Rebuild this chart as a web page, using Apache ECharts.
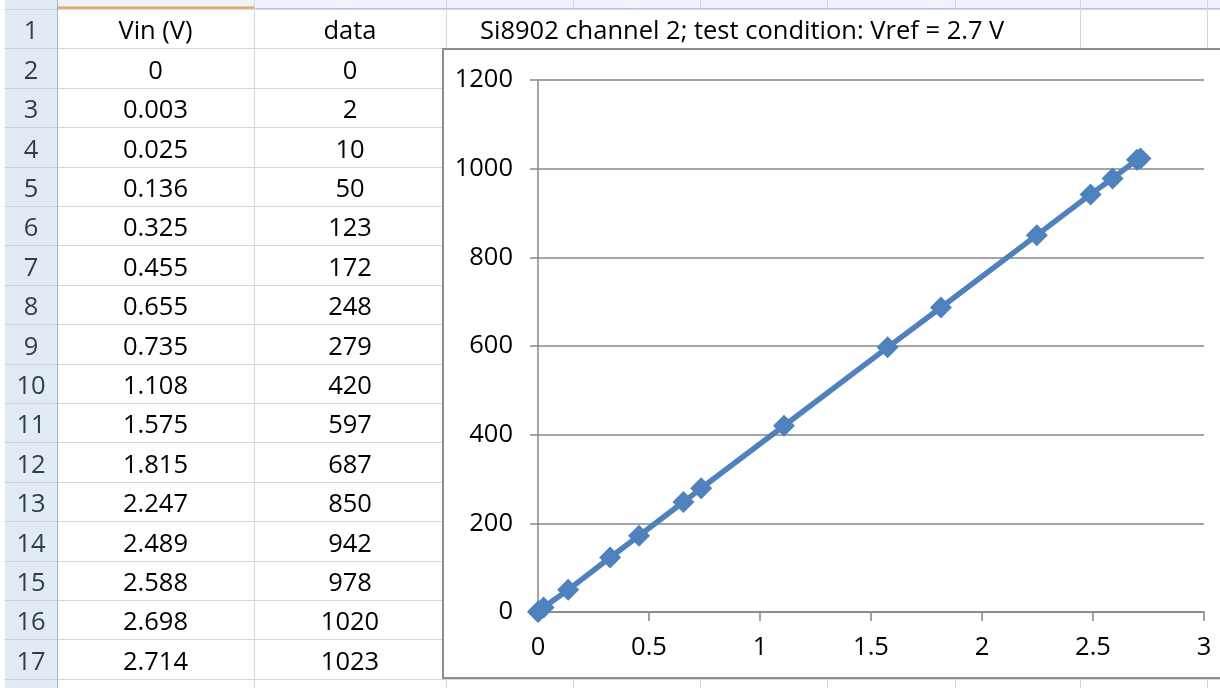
<!DOCTYPE html>
<html>
<head>
<meta charset="utf-8">
<script src="https://cdn.jsdelivr.net/npm/echarts@6/dist/echarts.min.js"></script>
<style>
html,body{margin:0;padding:0;background:#fff;}
#chart{width:1220px;height:688px;}
</style>
</head>
<body>
<div id="chart"></div>
<script>
// ---- data ----
const vin = [0, 0.003, 0.025, 0.136, 0.325, 0.455, 0.655, 0.735, 1.108, 1.575, 1.815, 2.247, 2.489, 2.588, 2.698, 2.714];
const codes = [0, 2, 10, 50, 123, 172, 248, 279, 420, 597, 687, 850, 942, 978, 1020, 1023];
const headers = ['Vin (V)', 'data'];
const titleCell = 'Si8902 channel 2; test condition: Vref = 2.7 V';
const xTicks = {min: 0, max: 3, interval: 0.5};
const yTicks = {min: 0, max: 1200, interval: 200};

// ---- styling / layout ----
const FONT = '"Open Sans", sans-serif';
const FS = 25.5;
const BLUE = '#4F81BD';
const AX = '#878787';
const GRIDC = '#D0D7E5';
const ROW_TOP = 9, ROW_H = 39.4, NROWS = 17;
const COLS = [5, 57, 254, 446, 573, 700, 827, 955, 1080, 1207, 1335];
const W = 1220, H = 688;
const TY = 3.5; // text baseline nudge

const g = [];
const px = v => Math.round(v) + 0.5;
// row header background
g.push({type:'rect', z:-30, shape:{x:COLS[0], y:0, width:COLS[1]-COLS[0], height:H}, style:{fill:'#E2EAF5'}});
// column header strip
g.push({type:'rect', z:-30, shape:{x:COLS[1], y:0, width:W, height:ROW_TOP}, style:{fill:'#EEF3FA'}});
g.push({type:'line', z:-29, shape:{x1:COLS[1], y1:px(ROW_TOP-1), x2:W, y2:px(ROW_TOP-1)}, style:{stroke:'#B5C6DC', lineWidth:1}});
g.push({type:'line', z:-28, shape:{x1:COLS[1]+1, y1:ROW_TOP-1.5, x2:COLS[2], y2:ROW_TOP-1.5}, style:{stroke:'#F2A34A', lineWidth:2}});
// horizontal gridlines
for (let k = 0; k <= NROWS + 1; k++) {
  const y = px(ROW_TOP + k * ROW_H);
  g.push({type:'line', z:-29, shape:{x1:COLS[1], y1:y, x2:W, y2:y}, style:{stroke:GRIDC, lineWidth:1}});
  g.push({type:'line', z:-29, shape:{x1:COLS[0], y1:y, x2:COLS[1], y2:y}, style:{stroke:'#C5D1E2', lineWidth:1}});
}
// vertical gridlines
for (let c = 2; c < COLS.length; c++) {
  g.push({type:'line', z:-29, shape:{x1:px(COLS[c]), y1:0, x2:px(COLS[c]), y2:H}, style:{stroke:GRIDC, lineWidth:1}});
}
g.push({type:'line', z:-28, shape:{x1:px(COLS[1]), y1:0, x2:px(COLS[1]), y2:H}, style:{stroke:'#9EB6CE', lineWidth:1}});
// hide gridlines where title text overflows (row 1)
g.push({type:'rect', z:-27, shape:{x:COLS[3]+1.5, y:ROW_TOP+1, width:COLS[8]-COLS[3]-2, height:ROW_H-1.5}, style:{fill:'#fff'}});
// row numbers
for (let r = 1; r <= NROWS; r++) {
  g.push({type:'text', z:-20, style:{text:String(r), x:(COLS[0]+COLS[1])/2, y:ROW_TOP+(r-0.5)*ROW_H+TY, fill:'#2F3F4E', font:FS+'px '+FONT, textAlign:'center', textVerticalAlign:'middle'}});
}
// header cells
headers.forEach((h, i) => {
  g.push({type:'text', z:-20, style:{text:h, x:(COLS[1+i]+COLS[2+i])/2, y:ROW_TOP+0.5*ROW_H+TY, fill:'#000', font:FS+'px '+FONT, textAlign:'center', textVerticalAlign:'middle'}});
});
// data cells
vin.forEach((v, i) => {
  const y = ROW_TOP + (i + 1.5) * ROW_H + TY;
  g.push({type:'text', z:-20, style:{text:String(v), x:(COLS[1]+COLS[2])/2, y:y, fill:'#000', font:FS+'px '+FONT, textAlign:'center', textVerticalAlign:'middle'}});
  g.push({type:'text', z:-20, style:{text:String(codes[i]), x:(COLS[2]+COLS[3])/2, y:y, fill:'#000', font:FS+'px '+FONT, textAlign:'center', textVerticalAlign:'middle'}});
});
// title cell text
g.push({type:'text', z:-20, style:{text:titleCell, x:480, y:ROW_TOP+0.5*ROW_H+TY, fill:'#000', font:FS+'px '+FONT, textAlign:'left', textVerticalAlign:'middle'}});
// chart frame
g.push({type:'rect', z:-10, shape:{x:443, y:49, width:900, height:629}, style:{fill:'#fff', stroke:'#8E8E8E', lineWidth:2}});

const chart = echarts.init(document.getElementById('chart'), null, {renderer:'canvas'});
chart.setOption({
  animation: false,
  backgroundColor: '#fff',
  grid: {left: 538, top: 80, right: 16, bottom: 76},
  xAxis: {
    type: 'value', min: xTicks.min, max: xTicks.max, interval: xTicks.interval,
    axisLine: {show: true, onZero: false, lineStyle: {color: AX, width: 1.5}},
    axisTick: {show: true, length: 9, lineStyle: {color: AX, width: 1.5}},
    axisLabel: {color: '#000', fontFamily: FONT, fontSize: FS, margin: 23, formatter: v => String(v)},
    splitLine: {show: false}
  },
  yAxis: {
    type: 'value', min: yTicks.min, max: yTicks.max, interval: yTicks.interval,
    axisLine: {show: true, onZero: false, lineStyle: {color: AX, width: 1.5}},
    axisTick: {show: true, length: 8, lineStyle: {color: AX, width: 1.5}},
    axisLabel: {color: '#000', fontFamily: FONT, fontSize: FS, margin: 25, formatter: v => String(v)},
    splitLine: {show: true, lineStyle: {color: AX, width: 1.5}}
  },
  series: [{
    type: 'line',
    data: vin.map((v, i) => [v, codes[i]]),
    symbol: 'diamond', symbolSize: 22, showAllSymbol: true,
    clip: false,
    lineStyle: {color: BLUE, width: 5.5},
    itemStyle: {color: BLUE},
    z: 5
  }],
  graphic: {elements: g}
});
</script>
</body>
</html>
